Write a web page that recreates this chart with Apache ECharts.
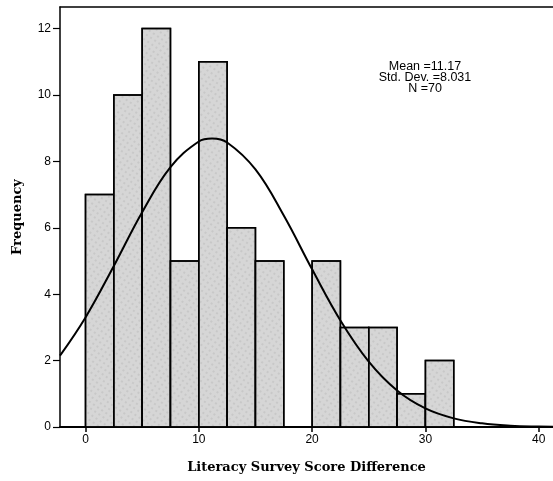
<!DOCTYPE html>
<html>
<head>
<meta charset="utf-8">
<script src="https://cdn.jsdelivr.net/npm/echarts@6/dist/echarts.min.js"></script>
<style>html,body{margin:0;padding:0;background:#fff}#c{width:553px;height:481px}</style>
</head>
<body>
<div id="c"></div>
<script>
// Histogram bins (start of each bin, width 2.5) and frequencies
const binStarts = [0, 2.5, 5, 7.5, 10, 12.5, 15, 17.5, 20, 22.5, 25, 27.5, 30];
const binWidth = 2.5;
const counts = [7, 10, 12, 5, 11, 6, 5, 0, 5, 3, 3, 1, 2];
// Normal curve
const curveX = [-2.25, 0, 2.5, 5, 7.5, 10, 11.17, 12.5, 15, 17.5, 20, 22.5, 25, 27.5, 30, 32.5, 35, 37.5, 40, 42];
const curveY = [2.15, 3.30, 4.85, 6.47, 7.83, 8.60, 8.69, 8.57, 7.76, 6.37, 4.75, 3.21, 1.97, 1.10, 0.56, 0.26, 0.11, 0.04, 0.014, 0.005];
const xTicks = [0, 10, 20, 30, 40];
const yTicks = [0, 2, 4, 6, 8, 10, 12];
const statsText = ['Mean =11.17', 'Std. Dev. =8.031', 'N =70'];

const chart = echarts.init(document.getElementById('c'), null, {renderer: 'canvas'});
const barData = binStarts.map((s, i) => [s, s + binWidth, counts[i]]).filter(d => d[2] > 0);

chart.setOption({
  animation: false,
  grid: {left: 60, top: 7, right: 0, bottom: 54},
  xAxis: [{
    type: 'value', min: -2.25, max: 41.26, interval: 10,
    name: 'Literacy Survey Score Difference', nameLocation: 'middle', nameGap: 34,
    nameTextStyle: {fontFamily: 'DejaVu Serif', fontWeight: 'bold', fontSize: 13, color: '#000'},
    axisLine: {show: true, onZero: false, lineStyle: {color: '#000', width: 2}},
    axisTick: {show: true, length: 5, inside: false, lineStyle: {color: '#000', width: 1.5}, customValues: xTicks},
    axisLabel: {color: '#000', fontFamily: 'Liberation Sans', fontSize: 12, margin: 7, customValues: xTicks,
      formatter: v => String(v)},
    splitLine: {show: false}
  }, {
    type: 'value', position: 'top', min: -2.25, max: 41.26,
    axisLine: {show: true, onZero: false, lineStyle: {color: '#000', width: 1.5}},
    axisTick: {show: false}, axisLabel: {show: false}, splitLine: {show: false}
  }],
  yAxis: {
    type: 'value', min: 0, max: 12.65,
    name: 'Frequency', nameLocation: 'middle', nameGap: 36, nameRotate: 90,
    nameTextStyle: {fontFamily: 'DejaVu Serif', fontWeight: 'bold', fontSize: 13, color: '#000'},
    axisLine: {show: true, onZero: false, lineStyle: {color: '#000', width: 1.5}},
    axisTick: {show: true, length: 7, lineStyle: {color: '#000', width: 1.2}, customValues: yTicks},
    axisLabel: {color: '#000', fontFamily: 'Liberation Sans', fontSize: 12, margin: 9, customValues: yTicks,
      formatter: v => String(v)},
    splitLine: {show: false}
  },
  series: [
    {
      type: 'custom',
      data: barData,
      encode: {x: [0, 1], y: 2},
      renderItem: function (params, api) {
        const p0 = api.coord([api.value(0), 0]);
        const p1 = api.coord([api.value(1), api.value(2)]);
        return {
          type: 'rect',
          shape: {x: p0[0], y: p1[1], width: p1[0] - p0[0], height: p0[1] - p1[1]},
          style: {
            fill: '#d6d6d6',
            stroke: '#000',
            lineWidth: 1.5,
            decal: {symbol: 'rect', symbolSize: 0.5, color: 'rgba(70,70,70,0.4)', dashArrayX: [2, 3], dashArrayY: [2, 3], rotation: 0.6}
          }
        };
      },
      z: 2
    },
    {
      type: 'line',
      data: curveX.map((x, i) => [x, curveY[i]]),
      smooth: 0.4,
      symbol: 'none',
      lineStyle: {color: '#000', width: 2},
      z: 3
    }
  ],
  graphic: [
    {
      type: 'text', x: 425, y: 61,
      style: {
        text: statsText.join('\n'), textAlign: 'center', textVerticalAlign: 'top',
        fontFamily: 'Liberation Sans', fontSize: 12.5, lineHeight: 11, fill: '#000'
      },
      z: 10
    }
  ]
});
</script>
</body>
</html>
